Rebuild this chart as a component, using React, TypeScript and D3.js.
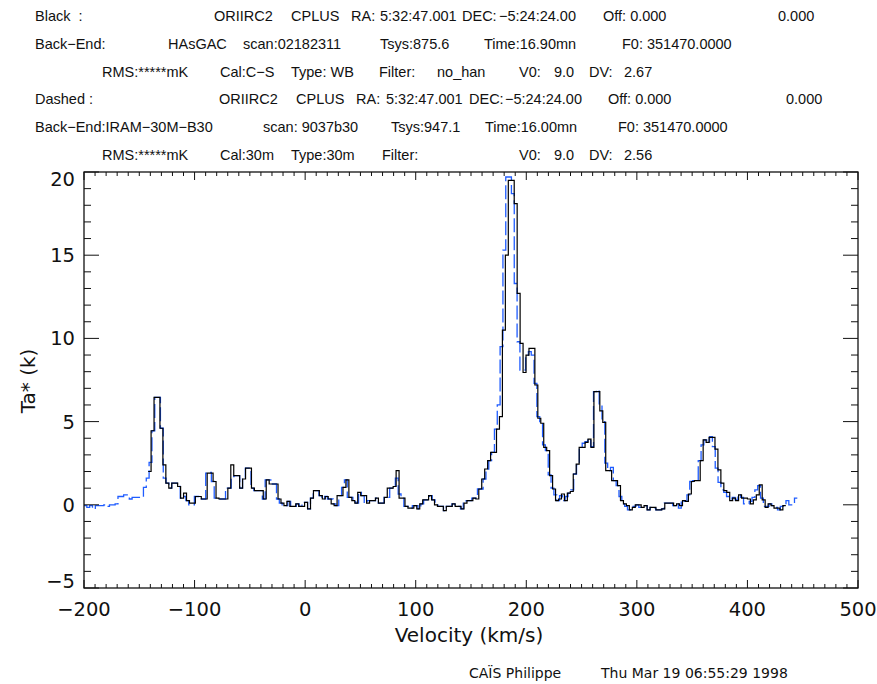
import React from "react";
import * as d3 from "d3";

// ---- Data ----
// Black spectrum: channel left edge velocity (km/s), channel width, Ta* values (K)
const BLACK_V0 = -142;
const BLACK_DV = 2.67;
const blackTa = [
  2.0, 4.45, 6.45, 6.45, 4.6, 2.4, 1.3, 1.0, 1.3, 1.3,
  1.1, 0.4, 0.7, 0.25, 0.1, 0.1, 0.5, 0.5, 0.35, 0.35,
  1.9, 1.9, 1.4, 0.4, 0.35, 0.35, 0.35, 1.0, 2.4, 1.75,
  1.75, 1.0, 1.55, 2.2, 2.2, 1.0, 0.85, 0.85, 0.85, 0.35,
  1.5, 1.25, 1.25, 1.25, 0.35, 0.1, -0.05, 0.2, -0.1, -0.1,
  0.05, -0.1, -0.1, 0.15, -0.25, 0.4, 0.85, 0.85, 0.55, 0.35,
  0.5, 0.35, 0.05, -0.05, 0.55, 0.55, 1.05, 1.5, 0.45, 0.25,
  0.1, 0.75, 0.55, 0.55, 0.1, 0.25, 0.25, 0.4, 0.1, 0.1,
  0.45, 1.0, 1.0, 1.1, 2.05, 0.4, 0.4, -0.1, -0.2, -0.2,
  -0.05, -0.25, 0.05, 0.3, 0.3, 0.55, 0.3, 0.0, -0.1, -0.1,
  -0.35, -0.1, -0.1, 0.05, -0.1, -0.1, -0.25, 0.1, 0.25, 0.25,
  0.4, 0.35, 0.95, 1.55, 2.15, 2.65, 3.15, 3.15, 4.55, 5.3,
  10.5, 15.0, 19.5, 19.5, 18.1, 12.7, 9.7, 7.95, 9.0, 9.4,
  9.4, 7.2, 5.2, 4.9, 3.45, 3.25, 1.75, 0.95, 0.25, 0.35,
  0.65, 0.25, 0.7, 0.8, 1.85, 2.45, 3.45, 3.45, 3.75, 3.95,
  3.45, 6.8, 6.8, 5.65, 4.95, 2.05, 2.05, 1.45, 1.45, 1.15,
  0.25, 0.05, -0.05, -0.3, -0.15, 0.0, 0.0, -0.15, -0.05, -0.3,
  -0.15, -0.15, -0.3, -0.3, -0.25, 0.1, 0.1, 0.1, -0.05, 0.05,
  -0.05, 0.25, 0.2, 0.65, 1.4, 1.45, 1.45, 2.65, 3.9, 3.75,
  4.05, 4.05, 3.35, 2.1, 1.3, 0.85, 0.75, 0.25, 0.4, 0.25,
  0.6, 0.4, 0.4, 0.35, 0.05, 0.3, 0.6, 1.2, 0.3, -0.15,
  0.05, -0.05, -0.2, -0.2, -0.3, -0.05,
];

// Dashed (blue) spectrum
const DASHED_V0 = -200;
const DASHED_DV = 2.56;
const dashedTa = [
  -0.05, -0.15, -0.05, -0.25, -0.05, -0.05, -0.05, 0.0, -0.1, 0.0,
  0.0, 0.05, 0.5, 0.5, 0.6, 0.6, 0.35, 0.45, 0.45, 0.45,
  0.45, 1.05, 1.6, 2.55, 4.45, 6.45, 6.45, 4.6, 1.6, 1.3,
  1.0, 1.3, 1.3, 1.1, 0.4, 0.5, 0.25, 0.0, 0.0, 0.5,
  0.5, 0.35, 0.35, 1.9, 1.95, 1.4, 0.4, 0.4, 0.35, 0.35,
  1.0, 1.0, 1.7, 1.75, 1.75, 1.0, 1.55, 2.2, 2.2, 1.0,
  0.85, 0.85, 0.85, 0.35, 1.5, 1.5, 1.25, 1.25, 0.35, 0.1,
  -0.05, -0.05, 0.2, -0.1, -0.1, 0.05, -0.1, 0.15, 0.15, -0.25,
  0.4, 0.85, 0.85, 0.55, 0.35, 0.5, 0.35, 0.35, 0.05, -0.05,
  0.55, 1.05, 1.5, 0.45, 0.45, 0.25, 0.1, 0.75, 0.55, 0.1,
  0.25, 0.25, 0.25, 0.4, 0.1, 0.1, 0.45, 0.45, 1.0, 1.1,
  1.6, 0.65, 0.4, -0.1, -0.1, -0.2, -0.05, -0.05, -0.25, 0.05,
  0.3, 0.3, 0.55, 0.3, 0.0, -0.1, -0.1, -0.35, -0.1, -0.1,
  0.05, -0.1, -0.1, -0.25, 0.1, 0.25, 0.25, 0.4, 0.4, 0.95,
  0.95, 1.55, 2.15, 2.65, 3.15, 4.55, 6.0, 9.5, 15.3, 19.7,
  19.7, 18.7, 13.3, 9.8, 8.1, 8.1, 8.9, 9.2, 9.0, 7.3,
  5.3, 4.9, 3.6, 3.25, 1.8, 1.0, 0.6, 0.25, 0.55, 0.25,
  0.5, 0.7, 0.9, 1.85, 2.4, 3.4, 3.7, 3.8, 3.95, 3.5,
  6.8, 6.9, 6.0, 5.0, 2.5, 2.05, 2.25, 1.45, 1.15, 0.5,
  0.05, -0.1, -0.3, -0.2, -0.1, 0.0, -0.15, -0.1, -0.05, -0.3,
  -0.15, -0.2, -0.3, -0.3, -0.25, 0.1, 0.1, 0.1, -0.05, 0.05,
  -0.2, 0.25, 0.2, 0.6, 1.4, 1.45, 1.45, 2.65, 3.6, 3.9,
  3.75, 4.1, 3.5, 2.2, 1.35, 0.9, 0.75, 0.5, 0.35, 0.45,
  0.3, 0.6, 0.45, 0.05, 0.05, 0.2, 0.45, 0.9, 1.15, 0.4,
  -0.1, -0.1, 0.05, -0.05, -0.15, -0.3, -0.1, -0.05, 0.25, 0.0,
  0.05, 0.4,
];

const xDomain = [-200, 500];
const yDomain = [-5, 20];
const xTickValues = [-200, -100, 0, 100, 200, 300, 400, 500];
const yTickValues = [-5, 0, 5, 10, 15, 20];
const X_MINOR_STEP = 10;
const Y_MINOR_STEP = 1;

const xTitle = "Velocity (km/s)";
const yTitle = "Ta* (k)";

const headerRows = [
  ["Black  :", "ORIIRC2", "CPLUS", "RA:", "5:32:47.001", "DEC:", "\u22125:24:24.00", "Off: 0.000", "0.000"],
  ["Back\u2212End:", "HAsGAC", "scan:02182311", "Tsys:875.6", "Time:16.90mn", "F0: 351470.0000"],
  ["RMS:*****mK", "Cal:C\u2212S", "Type: WB", "Filter:", "no_han", "V0:", "9.0", "DV:", "2.67"],
  ["Dashed :", "ORIIRC2", "CPLUS", "RA:", "5:32:47.001", "DEC:", "\u22125:24:24.00", "Off: 0.000", "0.000"],
  ["Back\u2212End:IRAM\u221230M\u2212B30", "scan: 9037b30", "Tsys:947.1", "Time:16.00mn", "F0: 351470.0000"],
  ["RMS:*****mK", "Cal:30m", "Type:30m", "Filter:", "V0:", "9.0", "DV:", "2.56"],
];
const footerTexts = ["CA\u00CFS Philippe", "Thu Mar 19 06:55:29 1998"];

// ---- Layout ----
const W = 877;
const H = 684;
const M = { left: 84, right: 858, top: 172, bottom: 588 };
const headerX = [
  [35, 214, 291, 351, 380, 462, 499, 603, 778],
  [35, 168, 243, 380, 484, 622],
  [102, 220, 291, 379, 437, 519, 554, 589, 624],
  [35, 219, 296, 356, 386, 469, 505, 608, 786],
  [35, 263, 391, 485, 618],
  [102, 220, 291, 382, 519, 554, 589, 624],
];
const headerBaseline = [21, 49, 77, 104, 132, 160];
const FONT = "'DejaVu Sans', 'Liberation Sans', Arial, sans-serif";
const HEADER_FONT = "'Liberation Sans', Arial, sans-serif";
const BLUE = "#1f5cff";

function stepPoints(v0: number, dv: number, vals: number[]) {
  const pts: [number, number][] = vals.map((t, i) => [v0 + i * dv, t]);
  pts.push([v0 + vals.length * dv, vals[vals.length - 1]]);
  return pts;
}

export default function App() {
  const x = d3.scaleLinear().domain(xDomain).range([M.left, M.right]);
  const y = d3.scaleLinear().domain(yDomain).range([M.bottom, M.top]);

  const line = d3
    .line<[number, number]>()
    .x((d) => x(d[0]))
    .y((d) => y(d[1]))
    .curve(d3.curveStepAfter);

  const blackPath = line(stepPoints(BLACK_V0, BLACK_DV, blackTa)) || "";
  const dashedPath = line(stepPoints(DASHED_V0, DASHED_DV, dashedTa)) || "";

  const xMinor = d3.range(xDomain[0], xDomain[1] + 0.001, X_MINOR_STEP);
  const yMinor = d3.range(yDomain[0], yDomain[1] + 0.001, Y_MINOR_STEP);
  const fmt = (v: number) => (v < 0 ? "\u2212" + Math.abs(v) : String(v));

  const axisColor = "#111";

  return (
    <svg
      width={W}
      height={H}
      style={{ position: "absolute", left: 0, top: 0, background: "#fff" }}
      fontFamily={FONT}
    >
      <rect x={0} y={0} width={W} height={H} fill="#fff" />

      {/* header */}
      {headerRows.map((row, r) =>
        row.map((t, k) => (
          <text
            key={`h${r}-${k}`}
            x={headerX[r][k]}
            y={headerBaseline[r]}
            fontSize={14.5}
            fontFamily={HEADER_FONT}
            fill="#111"
            style={{ whiteSpace: "pre" }}
          >
            {t}
          </text>
        ))
      )}

      {/* spectra */}
      <path d={dashedPath} fill="none" stroke={BLUE} strokeWidth={1.3} strokeDasharray="14 4" />
      <path d={blackPath} fill="none" stroke="#000" strokeWidth={1.2} />

      {/* frame */}
      <rect
        x={M.left}
        y={M.top}
        width={M.right - M.left}
        height={M.bottom - M.top}
        fill="none"
        stroke={axisColor}
        strokeWidth={1.3}
      />

      {/* x ticks */}
      {xMinor.map((v) => {
        const major = xTickValues.includes(v);
        const len = major ? 8 : 4;
        return (
          <g key={`xt${v}`} stroke={axisColor} strokeWidth={1}>
            <line x1={x(v)} x2={x(v)} y1={M.bottom} y2={M.bottom - len} />
            <line x1={x(v)} x2={x(v)} y1={M.top} y2={M.top + len} />
          </g>
        );
      })}
      {/* y ticks */}
      {yMinor.map((v) => {
        const major = yTickValues.includes(v);
        const len = major ? 15 : 7;
        return (
          <g key={`yt${v}`} stroke={axisColor} strokeWidth={1}>
            <line x1={M.left} x2={M.left + len} y1={y(v)} y2={y(v)} />
            <line x1={M.right} x2={M.right - len} y1={y(v)} y2={y(v)} />
          </g>
        );
      })}

      {/* x tick labels */}
      {xTickValues.map((v) => (
        <text key={`xl${v}`} x={x(v)} y={616} fontSize={19.5} textAnchor="middle" fill="#111">
          {fmt(v)}
        </text>
      ))}
      {/* y tick labels */}
      {yTickValues.map((v) => {
        const cy = Math.max(M.top + 7, Math.min(M.bottom - 7, y(v)));
        return (
          <text key={`yl${v}`} x={75} y={cy + 7} fontSize={19.5} textAnchor="end" fill="#111">
            {fmt(v)}
          </text>
        );
      })}

      {/* axis titles */}
      <text x={469} y={642} fontSize={20} textAnchor="middle" fill="#111">
        {xTitle}
      </text>
      <text
        transform={`translate(35, ${(M.top + M.bottom) / 2 + 1}) rotate(-90)`}
        fontSize={20}
        textAnchor="middle"
        fill="#111"
      >
        {yTitle}
      </text>

      {/* footer */}
      <text x={469} y={678} fontSize={14} fill="#111">
        {footerTexts[0]}
      </text>
      <text x={601} y={678} fontSize={14} fill="#111">
        {footerTexts[1]}
      </text>
    </svg>
  );
}
